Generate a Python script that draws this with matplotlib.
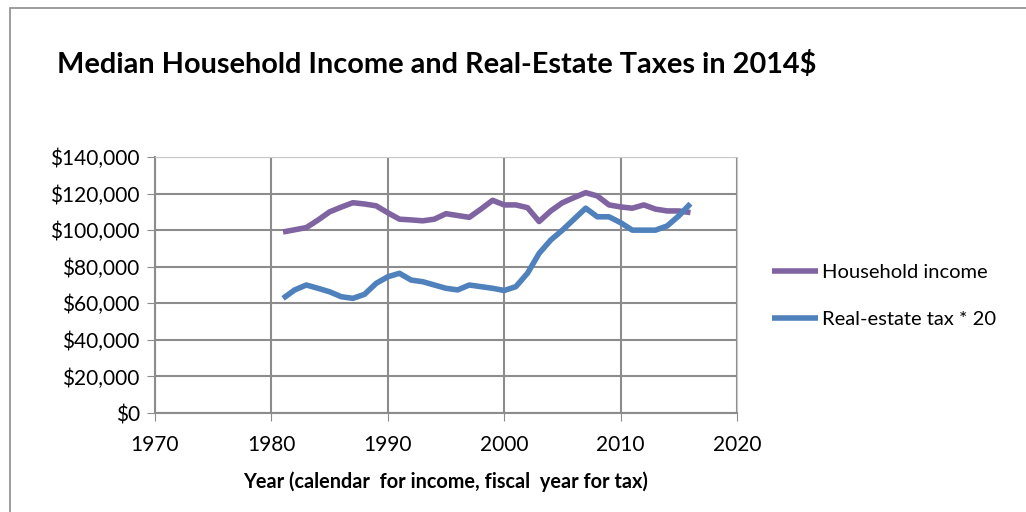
import matplotlib
matplotlib.use('Agg')
import matplotlib.pyplot as plt
from matplotlib.ticker import FuncFormatter
from matplotlib.patches import Rectangle

years = list(range(1981, 2017))
income = [99000, 100200, 101400, 105500, 110000, 112600, 115000, 114300, 113300, 109500,
          106000, 105600, 105100, 106000, 109000, 108000, 107000, 111500, 116300, 113800,
          113800, 112300, 104700, 110500, 115000, 117800, 120500, 118700, 113800, 112700,
          112000, 113800, 111500, 110500, 110500, 109600]
tax20 = [62700, 67300, 70000, 68200, 66300, 63600, 62700, 64900, 70900, 74500,
         76400, 72700, 71800, 70000, 68200, 67300, 70000, 69100, 68200, 67000,
         69100, 76400, 87300, 94600, 100000, 106000, 112000, 107300, 107300, 104100,
         100000, 100000, 100000, 102300, 107800, 114500]

plt.rcParams['font.family'] = ['Lato', 'DejaVu Sans']

fig = plt.figure(figsize=[10.26, 5.12], dpi=100)
fig.patches.append(Rectangle((10/1026, -0.01), 1.1, 1 - 8/512 + 0.01, transform=fig.transFigure,
                             fill=False, edgecolor='#8c8c8c', linewidth=1.2))
ax = fig.add_axes([155/1026, 1 - 413/512, (737-155)/1026, (413-157)/512])

ax.plot(years, income, color='#8064a2', linewidth=4, label='Household income', solid_capstyle='butt')
ax.plot(years, tax20, color='#4f81bd', linewidth=4, label='Real-estate tax * 20', solid_capstyle='butt')

ax.set_xlim(1970, 2020)
ax.set_ylim(0, 140000)
ax.set_xticks(range(1970, 2021, 10))
ax.set_yticks(range(0, 140001, 20000))
ax.yaxis.set_major_formatter(FuncFormatter(lambda v, p: f"${v:,.0f}"))
ax.grid(True, color='#8c8c8c', linewidth=1.5)
ax.set_axisbelow(True)
for s in ['top', 'right']:
    ax.spines[s].set_color('#c8c8c8')
for s in ['left', 'bottom']:
    ax.spines[s].set_color('#8c8c8c')
    ax.spines[s].set_linewidth(1.5)
ax.tick_params(axis='both', direction='out', length=6, color='#8c8c8c', labelsize=15)
ax.tick_params(axis='x', pad=10)
ax.tick_params(axis='y', pad=5)

ax.set_xlabel("Year (calendar  for income, fiscal  year for tax)", fontsize=14.3, fontweight='bold', labelpad=12)
fig.text(57/1026, 1 - 65/512, "Median Household Income and Real-Estate Taxes in 2014$",
         fontsize=20.8, fontweight='bold', va='center', ha='left')

ax.legend(loc='center left', bbox_to_anchor=(1.046, 0.457), frameon=False, fontsize=14.5,
          handlelength=2.3, labelspacing=1.5, handletextpad=0.2, borderaxespad=0)

plt.savefig('out.png')
